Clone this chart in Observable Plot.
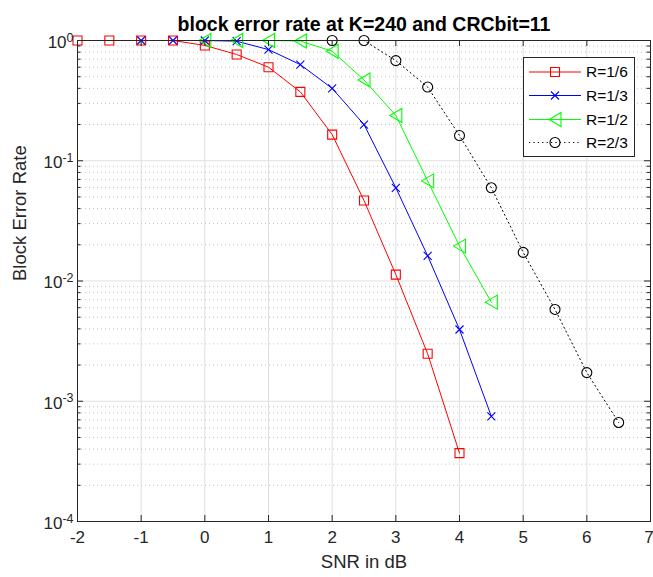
<!DOCTYPE html>
<html><head><meta charset="utf-8">
<script src="https://cdn.jsdelivr.net/npm/d3@7"></script>
<script src="https://cdn.jsdelivr.net/npm/@observablehq/plot@0.6"></script>
<style>
body{margin:0;background:#fff;}
#wrap{position:relative;width:653px;height:577px;font-family:"Liberation Sans",Arial,Helvetica,sans-serif;}
#legend{position:absolute;left:0;top:0;}
</style></head><body><div id="wrap"></div>
<script>
// ---- data ----
const titleText = "block error rate at K=240 and CRCbit=11";
const xLabel = "SNR in dB";
const yLabel = "Block Error Rate";
const xTicks = [-2,-1,0,1,2,3,4,5,6,7];
const yMajor = [1e-4,1e-3,1e-2,1e-1,1];
const seriesNames = ["R=1/6","R=1/3","R=1/2","R=2/3"];
const snr_r16 = [-2,-1.5,-1,-0.5,0,0.5,1,1.5,2,2.5,3,3.5,4];
const bler_r16 = [1,1,1,1,0.91,0.765,0.60,0.374,0.165,0.0467,0.0113,0.00248,0.00037];
const snr_r13 = [-1,-0.5,0,0.5,1,1.5,2,2.5,3,3.5,4,4.5];
const bler_r13 = [1,1,1,0.987,0.84,0.63,0.40,0.20,0.0596,0.0162,0.00395,0.00075];
const snr_r12 = [0,0.5,1,1.5,2,2.5,3,3.5,4,4.5];
const bler_r12 = [1,1,1,0.99,0.815,0.47,0.238,0.068,0.0195,0.00667];
const snr_r23 = [2,2.5,3,3.5,4,4.5,5,5.5,6,6.5];
const bler_r23 = [1,1,0.68,0.41,0.162,0.0596,0.0173,0.0058,0.00173,0.000666];

// ---- styling ----
const W = 653, H = 577, ML = 77, MR = 3, MT = 40, MB = 56;
const FW = W - ML - MR, FH = H - MT - MB;
const axisColor = "#262626";
const sym = {
  square: {draw(c){ const h = 4.5; c.moveTo(-h,-h); c.lineTo(h,-h); c.lineTo(h,h); c.lineTo(-h,h); c.closePath(); }},
  times: {draw(c){ const h = 4; c.moveTo(-h,-h); c.lineTo(h,h); c.moveTo(h,-h); c.lineTo(-h,h); }},
  triLeft: {draw(c){ c.moveTo(-6,0); c.lineTo(6,-7); c.lineTo(6,7); c.closePath(); }},
  circle: {draw(c){ c.moveTo(5,0); c.arc(0,0,5,0,2*Math.PI); c.closePath(); }}
};
const series = [
  {name: seriesNames[0], snr: snr_r16, bler: bler_r16, color: "#ff0000", symbol: sym.square, dash: null},
  {name: seriesNames[1], snr: snr_r13, bler: bler_r13, color: "#0000ff", symbol: sym.times, dash: null},
  {name: seriesNames[2], snr: snr_r12, bler: bler_r12, color: "#00ff00", symbol: sym.triLeft, dash: null},
  {name: seriesNames[3], snr: snr_r23, bler: bler_r23, color: "#000000", symbol: sym.circle, dash: "1.2,3.2"}
];
const yMinor = [];
for (let e = -4; e < 0; e++) for (let m = 2; m <= 9; m++) yMinor.push(m * Math.pow(10, e));

const marks = [
  Plot.ruleX(xTicks, {x: d => d, stroke: "#dfdfdf", strokeWidth: 1}),
  Plot.ruleY(yMinor, {y: d => d, stroke: "#c4c4c4", strokeWidth: 1, strokeDasharray: "1,3"}),
  Plot.ruleY(yMajor, {y: d => d, stroke: "#dfdfdf", strokeWidth: 1}),
];
for (const s of series) {
  const rows = s.snr.map((x, i) => ({x, y: s.bler[i]}));
  marks.push(Plot.line(rows, {x: "x", y: "y", stroke: s.color, strokeWidth: 1, strokeDasharray: s.dash || undefined}));
  marks.push(Plot.dot(rows, {x: "x", y: "y", symbol: s.symbol, r: 5, stroke: s.color, fill: "none", strokeWidth: 1.1}));
}
const xLast = xTicks[xTicks.length - 1];
marks.push(
  // ticks (inward) bottom/top
  Plot.ruleX(xTicks, {x: d => d, insetTop: FH - 6, stroke: axisColor}),
  Plot.ruleX(xTicks, {x: d => d, insetBottom: FH - 6, stroke: axisColor}),
  // y ticks left/right
  Plot.ruleY(yMajor, {y: d => d, insetRight: FW - 6, stroke: axisColor}),
  Plot.ruleY(yMajor, {y: d => d, insetLeft: FW - 6, stroke: axisColor}),
  Plot.ruleY(yMinor, {y: d => d, insetRight: FW - 3.5, stroke: axisColor}),
  Plot.ruleY(yMinor, {y: d => d, insetLeft: FW - 3.5, stroke: axisColor}),
  Plot.frame({stroke: axisColor, strokeWidth: 1}),
  // tick labels
  Plot.text(xTicks.filter(d => d !== xLast), {x: d => d, text: d => String(d), frameAnchor: "bottom", dy: 21, fontSize: 17, fill: axisColor}),
  Plot.text([xLast], {x: d => d, text: d => String(d), frameAnchor: "bottom", dy: 21, dx: -1.5, fontSize: 17, fill: axisColor}),
  Plot.text(yMajor, {y: d => d, text: d => "10^" + Math.round(Math.log10(d)), frameAnchor: "left", textAnchor: "end", dx: -4, dy: 2, fontSize: 17, fill: axisColor}),
  // titles
  Plot.text([titleText], {frameAnchor: "top", dy: -23, fontSize: 19.5, fontWeight: "bold", fill: "#000"}),
  Plot.text([xLabel], {frameAnchor: "bottom", dy: 46, fontSize: 18.5, fill: axisColor}),
  Plot.text([yLabel], {frameAnchor: "left", dx: -57, rotate: -90, fontSize: 18.5, fill: axisColor})
);

const chart = Plot.plot({
  width: W, height: H,
  marginLeft: ML, marginRight: MR, marginTop: MT, marginBottom: MB,
  x: {domain: [-2, 7], axis: null},
  y: {type: "log", domain: [1e-4, 1], axis: null},
  style: {fontFamily: "'Liberation Sans', Arial, Helvetica, sans-serif", background: "#fff", overflow: "visible"},
  marks
});
// superscript exponents
const NS = "http://www.w3.org/2000/svg";
chart.querySelectorAll("text").forEach(t => {
  const m = t.textContent.match(/^10\^(.+)$/);
  if (m) {
    t.textContent = "10";
    const ts = document.createElementNS(NS, "tspan");
    ts.setAttribute("dy", "-0.5em");
    ts.setAttribute("font-size", "12.5");
    ts.textContent = m[1].replace("\u2212", "-");
    t.appendChild(ts);
  }
});
const wrap = document.getElementById("wrap");
wrap.appendChild(chart);

// legend overlay
const lg = d3.create("svg").attr("id", "legend").attr("width", W).attr("height", H);
const lx = 523, ly = 57, lw = 111, lh = 99;
lg.append("rect").attr("x", lx + 0.5).attr("y", ly + 0.5).attr("width", lw).attr("height", lh)
  .attr("fill", "#fff").attr("stroke", axisColor).attr("stroke-width", 1);
const rowY = [72, 95.5, 119.5, 142.5];
series.forEach((s, i) => {
  const y = rowY[i];
  lg.append("line").attr("x1", 529).attr("x2", 581).attr("y1", y).attr("y2", y)
    .attr("stroke", s.color).attr("stroke-width", 1).attr("stroke-dasharray", s.dash);
  const p = d3.path(); s.symbol.draw(p);
  lg.append("path").attr("d", p.toString()).attr("transform", `translate(555,${y})`)
    .attr("fill", "none").attr("stroke", s.color).attr("stroke-width", 1.1);
  lg.append("text").attr("x", 586).attr("y", y).attr("dy", "0.35em")
    .attr("font-size", 15.5).attr("fill", "#000")
    .attr("font-family", "'Liberation Sans', Arial, sans-serif").text(s.name);
});
wrap.appendChild(lg.node());
</script></body></html>
